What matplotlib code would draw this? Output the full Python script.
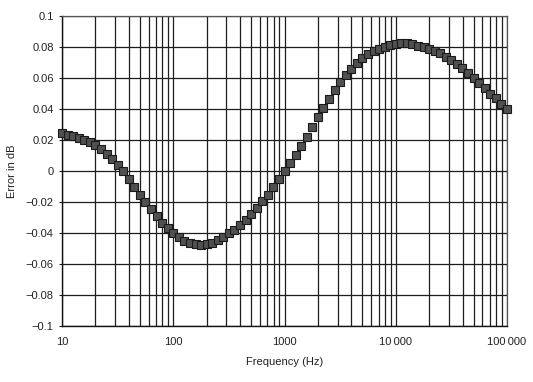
"""Error in dB vs frequency, log x axis with square markers."""

import numpy as np
import matplotlib
matplotlib.use("Agg")
import matplotlib.pyplot as plt
from matplotlib.ticker import FixedLocator, FixedFormatter, LogLocator, NullFormatter

plt.rcParams['font.family'] = ['Liberation Sans', 'DejaVu Sans']

# 20 points per decade, 10 Hz .. 100 kHz
steps_per_decade = 20
freq = 10.0 ** (1 + np.arange(81) / steps_per_decade)

error_db = [
    0.0245, 0.0234, 0.0223, 0.0212, 0.0201, 0.0185, 0.0166, 0.0140, 0.0108, 0.0075,
    0.0038, -0.0003, -0.0050, -0.0101, -0.0152, -0.0201, -0.0245, -0.0293, -0.0334, -0.0369,
    -0.0400, -0.0428, -0.0449, -0.0465, -0.0474, -0.0476, -0.0472, -0.0462, -0.0446, -0.0425,
    -0.0402, -0.0378, -0.0350, -0.0318, -0.0277, -0.0237, -0.0196, -0.0153, -0.0105, -0.0054,
    -0.0002, 0.0049, 0.0103, 0.0161, 0.0222, 0.0286, 0.0346, 0.0406, 0.0467, 0.0525,
    0.0576, 0.0622, 0.0660, 0.0697, 0.0729, 0.0755, 0.0776, 0.0790, 0.0802, 0.0812,
    0.0819, 0.0823, 0.0823, 0.0818, 0.0808, 0.0800, 0.0789, 0.0777, 0.0760, 0.0738,
    0.0715, 0.0689, 0.0662, 0.0632, 0.0600, 0.0568, 0.0534, 0.0500, 0.0468, 0.0434,
    0.0402,
]

x_ticks = [10, 100, 1000, 10000, 100000]
x_labels = ["10", "100", "1000", "10\u2009000", "100\u2009000"]
y_ticks = [-0.1, -0.08, -0.06, -0.04, -0.02, 0, 0.02, 0.04, 0.06, 0.08, 0.1]
y_labels = ["\u22120.1", "\u22120.08", "\u22120.06", "\u22120.04", "\u22120.02", "0",
            "0.02", "0.04", "0.06", "0.08", "0.1"]

fig = plt.figure(figsize=(5.33, 3.82), dpi=100)
ax = fig.add_axes([62 / 533, 1 - 326 / 382, (507 - 62) / 533, (326 - 16) / 382])

ax.set_xscale("log")
ax.set_xlim(10, 100000)
ax.set_ylim(-0.1, 0.1)

ax.xaxis.set_major_locator(FixedLocator(x_ticks))
ax.xaxis.set_major_formatter(FixedFormatter(x_labels))
ax.xaxis.set_minor_locator(LogLocator(base=10, subs=np.arange(2, 10)))
ax.xaxis.set_minor_formatter(NullFormatter())
ax.yaxis.set_major_locator(FixedLocator(y_ticks))
ax.yaxis.set_major_formatter(FixedFormatter(y_labels))

grid_kw = dict(color="#1e1e1e", linewidth=0.9)
ax.grid(True, which="major", axis="both", **grid_kw)
ax.grid(True, which="minor", axis="x", **grid_kw)
ax.set_axisbelow(True)

for side in ["left", "bottom"]:
    ax.spines[side].set_color("#111111")
    ax.spines[side].set_linewidth(1.0)
for side in ["top", "right"]:
    ax.spines[side].set_color("#555555")
    ax.spines[side].set_linewidth(0.9)

ax.tick_params(axis="x", which="both", length=0, pad=8, labelsize=8, colors="#222222")
ax.tick_params(axis="y", which="major", length=2, width=0.8, pad=4, labelsize=8, colors="#222222")

ax.plot(freq, error_db, linestyle="none", marker="s", markersize=5.6,
        markerfacecolor="#505050", markeredgecolor="#1a1a1a", markeredgewidth=0.8,
        clip_on=False, zorder=3)

ax.set_xlabel("Frequency (Hz)", fontsize=8, color="#222222", labelpad=7)
ax.set_ylabel("Error in dB", fontsize=8, color="#222222", labelpad=6)

fig.savefig("out.png", dpi=100)
